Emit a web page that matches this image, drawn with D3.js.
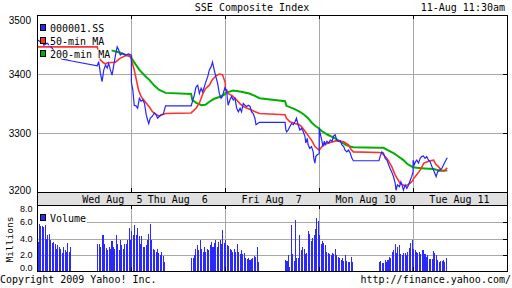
<!DOCTYPE html>
<html>
<head>
<meta charset="utf-8">
<script src="https://cdn.jsdelivr.net/npm/d3@7"></script>
<style>
  body { margin: 0; background: #fff; }
  text { font-family: "DejaVu Sans Mono", monospace; font-size: 10px; fill: #000; }
  .num { font-family: "Liberation Sans", Arial, sans-serif; }
</style>
</head>
<body>
<div id="chart"></div>
<script>
var days = ["Wed Aug  5", "Thu Aug  6", "Fri Aug  7", "Mon Aug 10", "Tue Aug 11"];
var priceTicks = [3200, 3300, 3400, 3500];
var volumeTicks = [0, 2, 4, 6, 8];
var seriesNames = ["000001.SS", "50-min MA", "200-min MA"];

// SSE composite, one list per trading day: [time, index]
var price = [
  [["9:30",3458],["9:38",3455],["9:46",3459],["9:52",3449],["10:04",3452],["10:16",3447],["10:26",3441],["10:37",3434],["10:44",3429],["10:57",3425],["11:12",3424],["11:30",3422],
   ["13:00",3414],["13:05",3421],["13:11",3401],["13:17",3387],["13:23",3407],["13:29",3415],["13:35",3410],["13:40",3418],["13:46",3407],["13:52",3398],["13:58",3415],["14:04",3432],["14:10",3446],["14:15",3441],["14:21",3432],["14:29",3435],["14:39",3432],["14:50",3434],["15:00",3432]],
  [["9:30",3386],["9:35",3373],["9:40",3347],["9:46",3346],["9:52",3342],["9:58",3359],["10:04",3354],["10:10",3356],["10:16",3350],["10:22",3331],["10:27",3322],["10:31",3316],["10:36",3325],["10:43",3328],["10:51",3334],["10:57",3331],["11:02",3325],["11:08",3328],["11:14",3331],["11:22",3332],["11:30",3346],
   ["13:00",3346],["13:06",3356],["13:11",3364],["13:17",3378],["13:23",3381],["13:29",3367],["13:35",3376],["13:40",3370],["13:46",3378],["13:52",3387],["13:58",3395],["14:04",3407],["14:10",3412],["14:15",3420],["14:21",3407],["14:27",3395],["14:33",3384],["14:39",3367],["14:45",3359],["14:50",3362],["14:56",3373],["15:00",3378]],
  [["9:30",3373],["9:35",3373],["9:37",3359],["9:40",3347],["9:46",3356],["9:52",3362],["9:58",3356],["10:04",3359],["10:10",3342],["10:16",3336],["10:22",3342],["10:27",3336],["10:33",3350],["10:39",3347],["10:45",3345],["10:51",3347],["10:57",3345],["11:02",3336],["11:08",3333],["11:14",3325],["11:18",3314],["11:30",3318],
   ["13:00",3318],["13:03",3305],["13:06",3302],["13:11",3305],["13:17",3311],["13:23",3316],["13:29",3314],["13:35",3319],["13:40",3325],["13:46",3314],["13:52",3305],["13:58",3308],["14:04",3302],["14:10",3294],["14:13",3283],["14:18",3291],["14:21",3280],["14:27",3274],["14:33",3277],["14:39",3268],["14:41",3257],["14:45",3249],["14:48",3260],["14:53",3263],["15:00",3265]],
  [["9:30",3308],["9:36",3294],["9:40",3286],["9:43",3277],["9:48",3286],["9:51",3280],["9:57",3286],["10:03",3283],["10:09",3288],["10:15",3286],["10:21",3295],["10:26",3297],["10:32",3288],["10:38",3286],["10:44",3287],["10:50",3280],["10:56",3277],["11:01",3271],["11:07",3268],["11:13",3271],["11:19",3266],["11:25",3257],["11:30",3253],
   ["13:00",3253],["13:04",3260],["13:10",3268],["13:16",3266],["13:22",3257],["13:28",3254],["13:34",3246],["13:39",3240],["13:45",3234],["13:51",3226],["13:57",3215],["14:00",3203],["14:05",3212],["14:12",3209],["14:17",3217],["14:21",3212],["14:26",3203],["14:32",3212],["14:38",3206],["14:44",3212],["14:50",3220],["14:55",3226],["15:00",3234]],
  [["9:30",3254],["9:34",3246],["9:38",3251],["9:43",3254],["9:49",3249],["9:55",3257],["10:00",3260],["10:06",3261],["10:12",3257],["10:18",3260],["10:24",3254],["10:30",3251],["10:36",3243],["10:42",3237],["10:47",3231],["10:51",3226],["10:56",3234],["11:03",3237],["11:11",3240],["11:17",3246],["11:22",3251],["11:30",3258]]
];

var ma50 = [
  [["9:30",3446],["11:30",3446],["13:00",3446],["13:11",3424],["13:22",3419],["13:29",3417],["13:36",3419],["14:04",3420],["14:21",3427],["14:39",3431],["14:50",3432],["15:00",3427]],
  [["9:30",3424],["9:40",3407],["9:55",3373],["10:05",3361],["10:22",3351],["10:33",3344],["10:44",3336],["10:58",3331],["11:08",3329],["11:30",3333],["13:00",3334],["13:17",3342],["13:29",3351],["13:39",3364],["13:50",3375],["14:04",3381],["14:14",3390],["14:27",3397],["14:39",3400],["14:50",3399],["15:00",3385]],
  [["9:30",3375],["9:40",3367],["9:55",3363],["10:10",3356],["10:23",3349],["10:33",3345],["10:47",3342],["11:01",3339],["11:15",3336],["11:30",3333],["13:00",3331],["13:05",3325],["13:17",3319],["13:35",3316],["13:50",3314],["13:58",3311],["14:07",3305],["14:15",3300],["14:25",3293],["14:33",3288],["14:45",3277],["15:00",3271]],
  [["9:30",3271],["9:45",3280],["10:09",3284],["10:32",3287],["10:56",3285],["11:13",3280],["11:21",3273],["11:30",3268],["13:00",3267],["13:10",3266],["13:28",3257],["13:45",3243],["13:57",3229],["14:14",3215],["14:32",3210],["14:50",3215],["15:00",3220]],
  [["9:30",3222],["9:37",3226],["9:55",3237],["10:08",3249],["10:18",3251],["10:29",3253],["10:42",3254],["10:50",3247],["10:59",3243],["11:11",3236],["11:22",3237],["11:30",3241]]
];

var ma200 = [
  [["13:50",3440],["14:21",3436],["14:42",3432],["15:00",3429]],
  [["9:30",3427],["9:58",3407],["10:16",3398],["10:33",3390],["10:51",3380],["11:08",3373],["11:30",3368],["13:00",3366],["13:04",3356],["13:18",3351],["13:36",3347],["13:50",3348],["14:04",3353],["14:21",3358],["14:39",3361],["15:00",3366]],
  [["9:30",3368],["9:58",3372],["10:26",3370],["10:54",3367],["11:14",3363],["11:30",3359],["13:00",3354],["13:05",3346],["13:32",3341],["13:52",3336],["14:07",3331],["14:21",3325],["14:35",3317],["14:49",3311],["15:00",3308]],
  [["9:30",3307],["9:40",3303],["10:00",3297],["10:21",3292],["10:43",3286],["11:04",3280],["11:18",3277],["11:30",3276],["13:00",3275],["13:16",3275],["13:31",3271],["13:51",3266],["14:06",3261],["14:26",3254],["14:41",3247],["15:00",3242]],
  [["9:30",3242],["9:43",3241],["10:11",3240],["10:42",3239],["11:04",3236],["11:21",3236],["11:30",3237]]
];

// 5-minute volume in millions, morning (from 9:30) and afternoon (from 13:00) per day
var volumeAM = [
  [3.6,6.3,5.6,5.5,5.4,5.7,4.0,4.4,4.6,3.8,3.5,3.6,3.4,2.8,3.2,3.0,2.8,2.3,3.0,2.6,2.4,3.5,2.4,3.0],
  [5.0,4.5,5.7,4.5,5.3,4.3,3.3,4.3,3.0,3.0,3.2,3.9,4.6,5.8,3.9,2.8,2.6,2.4,2.8,2.2,2.0,2.4,1.9,1.2],
  [3.9,3.2,3.1,2.8,2.6,2.4,2.8,2.4,3.3,2.4,2.1,2.6,2.1,2.2,1.7,1.5,1.7,1.4,1.5,1.6,1.9,1.8,3.0,1.2],
  [4.5,3.4,3.7,3.5,3.2,2.4,2.3,2.1,2.0,2.2,2.1,2.7,2.0,1.8,1.7,1.4,1.6,1.3,2.0,1.3,1.2,1.1,1.8,1.1],
  [2.7,2.6,2.4,2.2,2.4,2.1,2.6,2.6,2.1,1.8,2.0,1.5,1.5,1.5,2.5,2.3,2.0,1.4,1.2,1.3,1.3,1.4,1.1,1.6]
];
var volumePM = [
  [3.4,3.3,3.0,4.5,4.5,3.4,2.9,2.6,3.0,2.8,3.7,3.0,2.8,4.4,3.3,2.6,3.9,3.2,2.8,3.3,3.3,3.9,5.3,3.8],
  [1.7,1.6,2.0,2.8,3.2,2.6,3.8,2.8,2.4,3.0,2.4,2.8,2.6,3.2,3.6,3.0,3.5,3.9,3.0,3.6,3.8,3.4,5.1,3.5],
  [1.4,1.3,2.0,0.6,5.7,2.1,1.3,6.3,1.7,1.6,4.5,2.6,3.0,2.8,2.1,2.2,4.9,4.6,3.7,4.1,4.4,5.2,6.5,6.2],
  [1.2,1.3,1.0,1.0,1.4,1.1,1.4,1.8,1.6,2.4,2.6,3.4,2.2,3.0,3.2,2.1,2.0,2.2,2.2,2.0,2.4,2.9,3.5,3.8],
  []
];

var W = 512, H = 288;
var DAY = 330; // chart minutes from 9:30 to 15:00

function minutes(c) {
  var p = c.split(":");
  return +p[0] * 60 + +p[1] - 570;
}
function flatten(list) {
  var out = [];
  list.forEach(function(day, i) {
    day.forEach(function(p) { out.push({t: i * DAY + minutes(p[0]), v: p[1]}); });
  });
  return out;
}

var svg = d3.select("#chart").append("svg").attr("width", W).attr("height", H);

var x = d3.scaleLinear().domain([0, DAY * days.length]).range([37.5, 507]);
var y = d3.scaleLinear().domain([3200, 3500]).range([192, 15]);
var yv = d3.scaleLinear().domain([0, 8]).range([271.5, 206]);

var left = 37, right = 507;
var crisp = function(v) { return Math.round(v) + 0.5; };
var dayLines = d3.range(1, days.length).map(function(d) { return d * DAY; });

// grid
var grid = svg.append("g").attr("stroke", "#a8a8a8").attr("shape-rendering", "crispEdges");
grid.selectAll(".hp").data(priceTicks.slice(1, -1)).enter().append("line")
  .attr("x1", left).attr("x2", right)
  .attr("y1", function(d) { return crisp(y(d)); }).attr("y2", function(d) { return crisp(y(d)); });
grid.selectAll(".hv").data(volumeTicks.slice(1, -1)).enter().append("line")
  .attr("x1", left).attr("x2", right)
  .attr("y1", function(d) { return crisp(yv(d)); }).attr("y2", function(d) { return crisp(yv(d)); });
grid.selectAll(".vp").data(dayLines).enter().append("line")
  .attr("x1", function(d) { return crisp(x(d)); }).attr("x2", function(d) { return crisp(x(d)); })
  .attr("y1", 15).attr("y2", 192);
grid.selectAll(".vv").data(dayLines).enter().append("line")
  .attr("x1", function(d) { return crisp(x(d)); }).attr("x2", function(d) { return crisp(x(d)); })
  .attr("y1", 205).attr("y2", 271);

// volume bars
var bars = [];
days.forEach(function(d, i) {
  volumeAM[i].forEach(function(v, k) { bars.push({t: i * DAY + k * 5, v: v}); });
  volumePM[i].forEach(function(v, k) { bars.push({t: i * DAY + 210 + k * 5, v: v}); });
});
svg.append("g").attr("fill", "#2a2aff").attr("shape-rendering", "crispEdges")
  .selectAll("rect").data(bars).enter().append("rect")
  .attr("x", function(d) { return x(d.t); })
  .attr("width", function(d) { return Math.max(1, x(d.t + 5) - x(d.t) - 0.4); })
  .attr("y", function(d) { return yv(d.v); })
  .attr("height", function(d) { return yv(0) - yv(d.v); });

// price and averages
var line = d3.line().x(function(d) { return x(d.t); }).y(function(d) { return y(d.v); });
svg.append("path").datum(flatten(ma200)).attr("d", line)
  .attr("fill", "none").attr("stroke", "#00b000").attr("stroke-width", 2);
svg.append("path").datum(flatten(ma50)).attr("d", line)
  .attr("fill", "none").attr("stroke", "#ff3030").attr("stroke-width", 1.6);
svg.append("path").datum(flatten(price)).attr("d", line)
  .attr("fill", "none").attr("stroke", "#2424ff").attr("stroke-width", 1.2);

// date band
svg.append("rect").attr("x", left + 0.5).attr("y", 192.5).attr("width", right - left).attr("height", 13)
  .attr("fill", "#e0e0e0").attr("stroke", "#000").attr("shape-rendering", "crispEdges");
svg.selectAll(".day").data(days).enter().append("text")
  .attr("x", function(d, i) { return x(i * DAY + (i === 0 ? 263 : 163)); })
  .attr("y", 202.5)
  .attr("text-anchor", "middle")
  .style("white-space", "pre")
  .text(function(d) { return d; });

// frames
svg.append("rect").attr("x", left + 0.5).attr("y", 15.5).attr("width", right - left).attr("height", 177)
  .attr("fill", "none").attr("stroke", "#000").attr("shape-rendering", "crispEdges");
svg.append("rect").attr("x", left + 0.5).attr("y", 205.5).attr("width", right - left).attr("height", 66)
  .attr("fill", "none").attr("stroke", "#000").attr("shape-rendering", "crispEdges");

// small ticks
var ticks = svg.append("g").attr("stroke", "#000").attr("shape-rendering", "crispEdges");
dayLines.forEach(function(d) {
  var xx = crisp(x(d));
  [[15, 19], [188, 192], [205, 209], [267, 271]].forEach(function(s) {
    ticks.append("line").attr("x1", xx).attr("x2", xx).attr("y1", s[0]).attr("y2", s[1]);
  });
});
priceTicks.slice(1, -1).forEach(function(v) {
  ticks.append("line").attr("x1", right - 4).attr("x2", right).attr("y1", crisp(y(v))).attr("y2", crisp(y(v)));
});
volumeTicks.slice(1, -1).forEach(function(v) {
  ticks.append("line").attr("x1", right - 4).attr("x2", right).attr("y1", crisp(yv(v))).attr("y2", crisp(yv(v)));
});

// axis labels
svg.selectAll(".pl").data(priceTicks).enter().append("text")
  .attr("class", "num")
  .attr("x", 31).attr("text-anchor", "end")
  .attr("y", function(d) { return y(d) + (d === 3500 ? 9 : d === 3200 ? 1.5 : 3.6); })
  .text(function(d) { return d; });
svg.selectAll(".vl").data(volumeTicks).enter().append("text")
  .attr("class", "num")
  .style("font-size", "9px")
  .attr("x", 32.5).attr("text-anchor", "end")
  .attr("y", function(d) { return yv(d) + (d === 8 ? 6.3 : d === 0 ? -0.5 : 3); })
  .text(function(d) { return d.toFixed(1); });
svg.append("text").attr("transform", "translate(12.5,239.5) rotate(-90)")
  .attr("text-anchor", "middle").style("font-size", "9.5px").text("Millions");

// legends
var colors = ["#2424ff", "#ff3030", "#00b000"];
seriesNames.forEach(function(name, i) {
  var base = 32 + i * 12.8;
  var t = svg.append("text").attr("x", 50).attr("y", base).text(name);
  var w = t.node().getComputedTextLength();
  svg.insert("rect", "text").attr("x", 49).attr("y", base - 8).attr("width", w + 2).attr("height", 9).attr("fill", "#fff");
  svg.append("rect").attr("x", 40.5).attr("y", base - 7.5).attr("width", 5).attr("height", 6)
    .attr("fill", colors[i]).attr("stroke", "#000").attr("shape-rendering", "crispEdges");
});
svg.append("rect").attr("x", 38).attr("y", 213).attr("width", 49).attr("height", 11).attr("fill", "#fff");
svg.append("rect").attr("x", 40.5).attr("y", 214.5).attr("width", 5).attr("height", 6)
  .attr("fill", "#2a2aff").attr("stroke", "#000").attr("shape-rendering", "crispEdges");
svg.append("text").attr("x", 50).attr("y", 222).text("Volume");

// titles
svg.append("text").attr("x", 252).attr("y", 10.5).attr("text-anchor", "middle").text("SSE Composite Index");
svg.append("text").attr("x", 505).attr("y", 10.5).attr("text-anchor", "end").text("11-Aug 11:30am");
svg.append("text").attr("x", 0).attr("y", 283).text("Copyright 2009 Yahoo! Inc.");
svg.append("text").attr("x", 511).attr("y", 283).attr("text-anchor", "end").text("http://finance.yahoo.com/");
</script>
</body>
</html>
